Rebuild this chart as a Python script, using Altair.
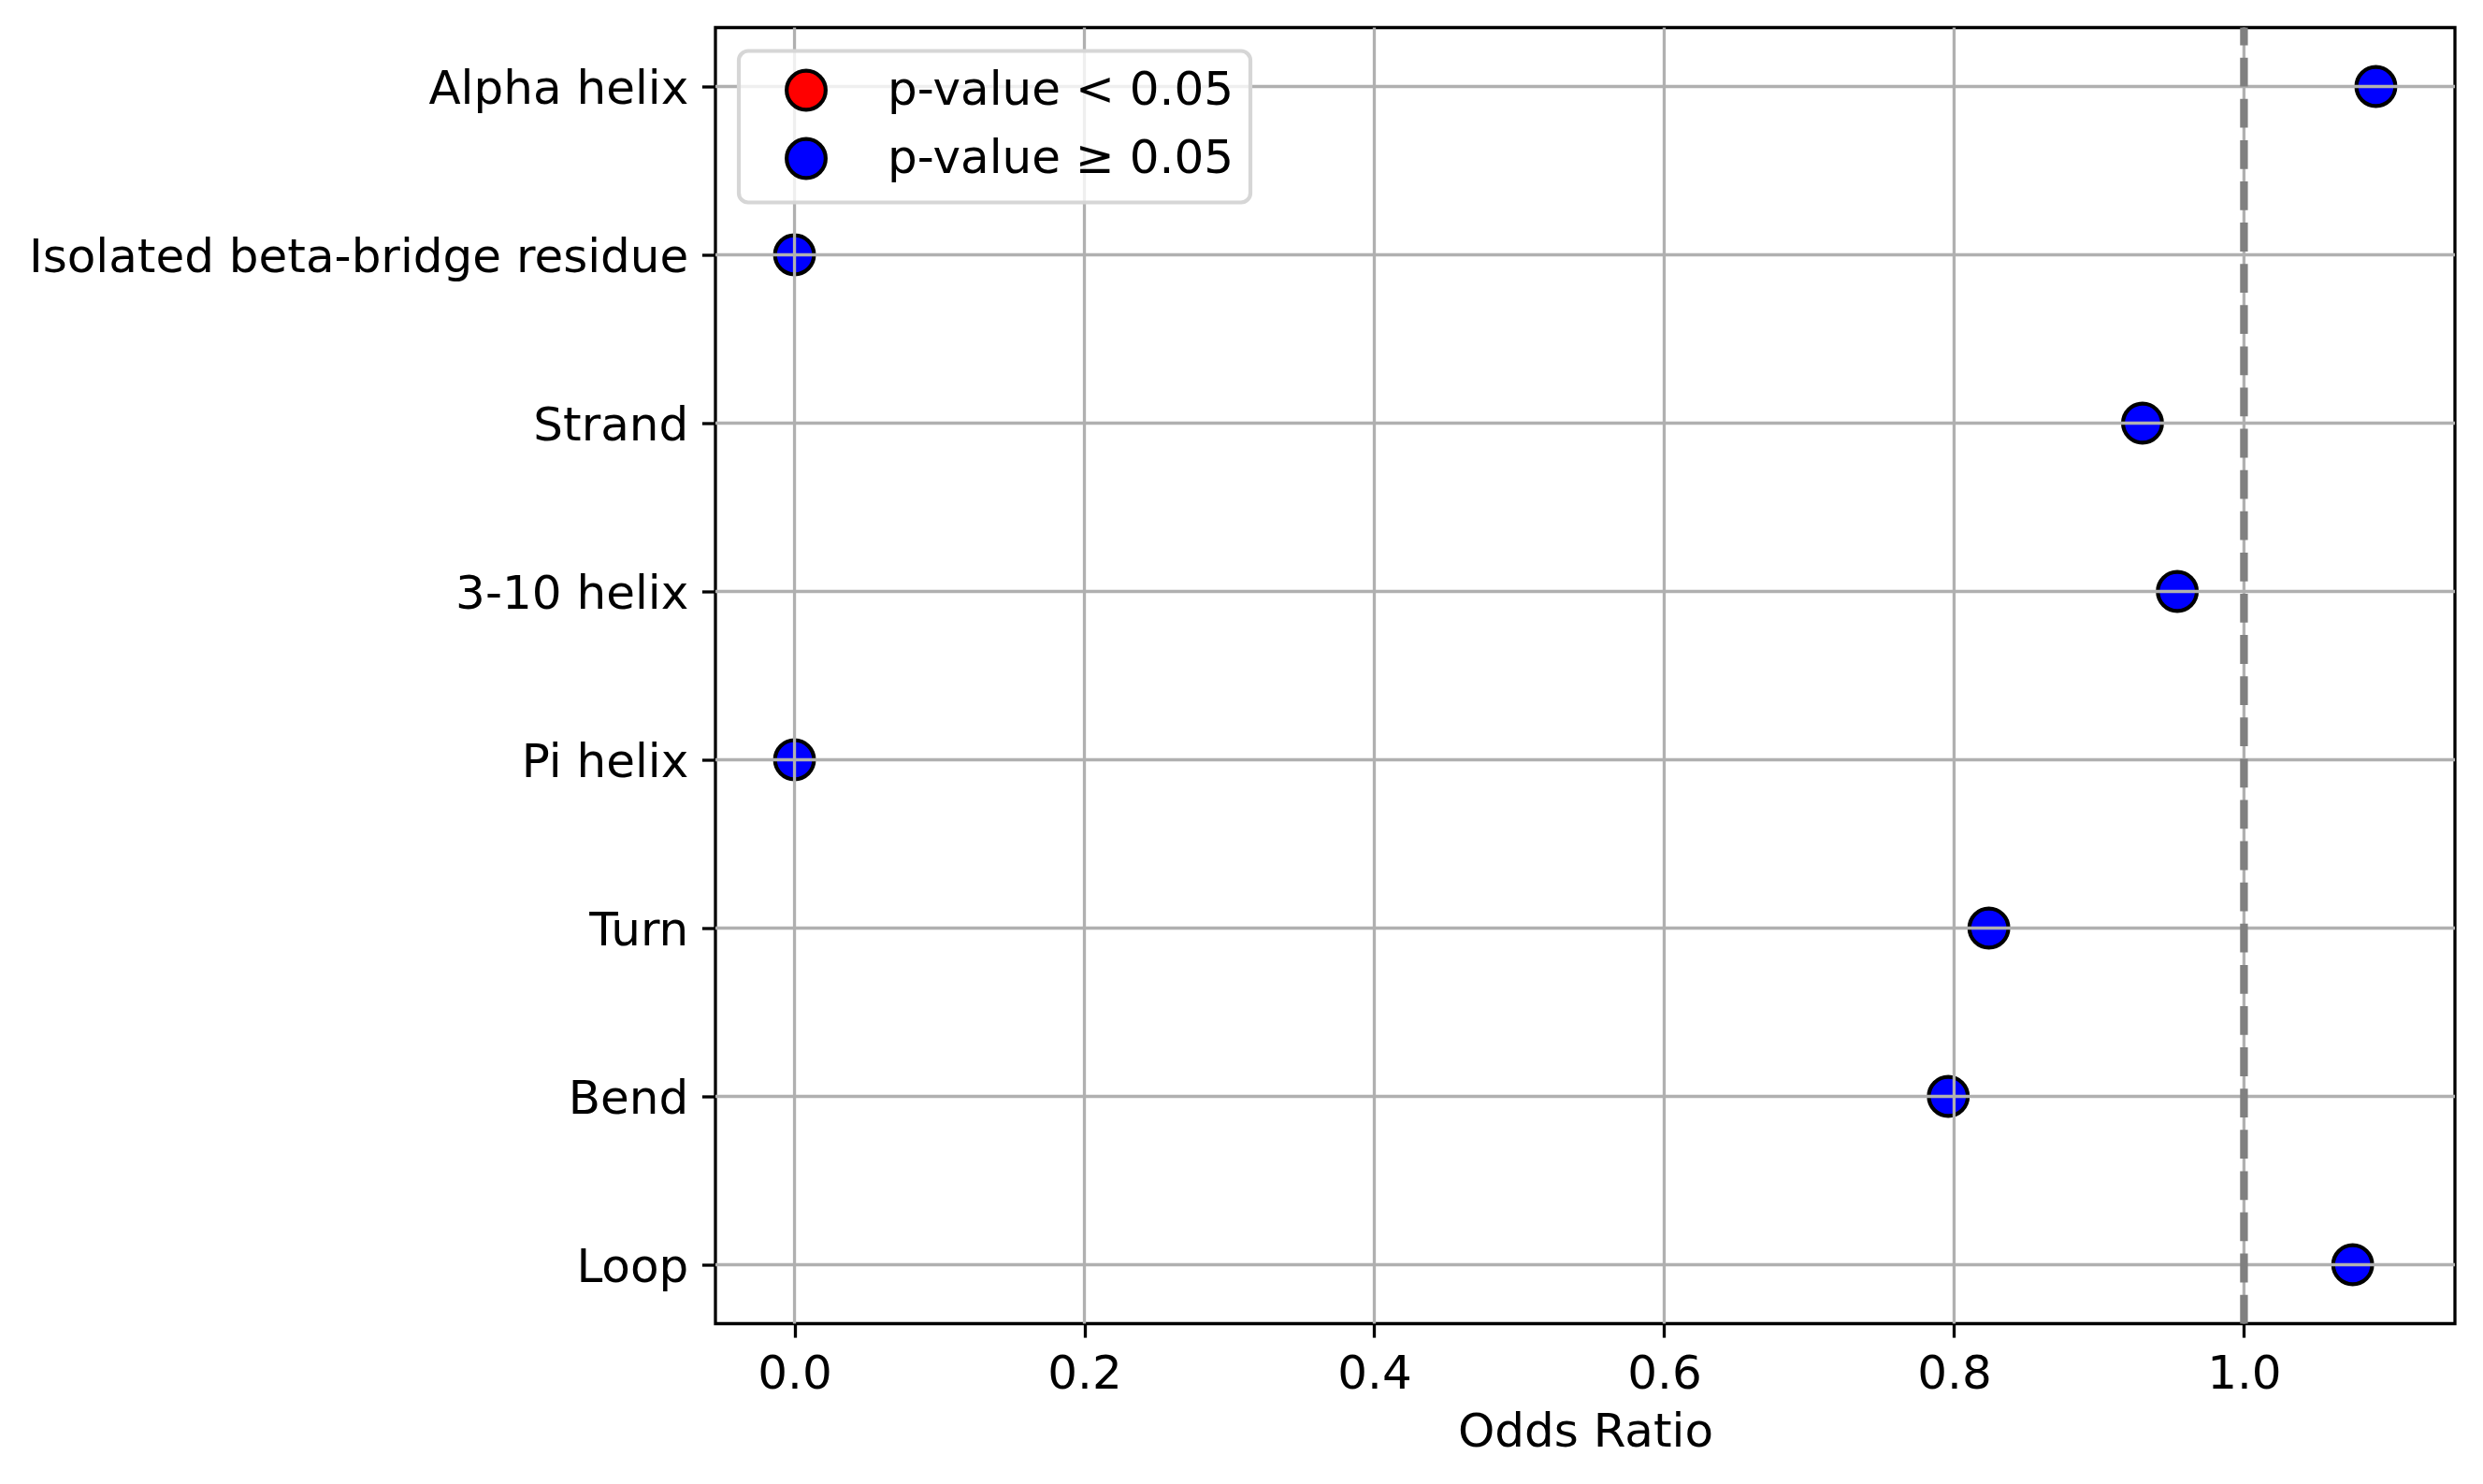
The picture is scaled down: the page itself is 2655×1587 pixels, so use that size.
import altair as alt
import pandas as pd

categories = ["Alpha helix", "Isolated beta-bridge residue", "Strand", "3-10 helix",
              "Pi helix", "Turn", "Bend", "Loop"]
odds_ratio = [1.091, 0.0, 0.930, 0.954, 0.0, 0.824, 0.796, 1.075]
significance = ["p-value ≥ 0.05"] * 8
legend_labels = ["p-value < 0.05", "p-value ≥ 0.05"]
legend_colors = ["red", "blue"]
x_ticks = [0.0, 0.2, 0.4, 0.6, 0.8, 1.0]
ref_value = [1.0]

df = pd.DataFrame({"cat": categories, "or": odds_ratio, "sig": significance})
ref = pd.DataFrame({"x": ref_value})
xgrid = pd.DataFrame({"t": x_ticks})
ygrid = pd.DataFrame({"cat": categories})

W, H = 1860, 1386
xmin = 0 - 0.05 * max(odds_ratio)
xmax = max(odds_ratio) * 1.05

x_scale = alt.Scale(domain=[xmin, xmax], nice=False, zero=False)
y_scale = alt.Scale(type="point", padding=0.35, domain=categories)

points = alt.Chart(df).mark_point(
    shape="circle", filled=True, opacity=1, size=1740,
    stroke="black", strokeWidth=4.2
).encode(
    x=alt.X("or:Q", scale=x_scale,
            axis=alt.Axis(values=x_ticks, format=".1f", title="Odds Ratio",
                          titlePadding=12, labelFlush=False, grid=False)),
    y=alt.Y("cat:N", sort=categories, scale=y_scale,
            axis=alt.Axis(title=None, labelLimit=1200, grid=False, labelOffset=3)),
    color=alt.Color("sig:N",
                    scale=alt.Scale(domain=legend_labels, range=legend_colors),
                    legend=alt.Legend(title=None, orient="top-left", zindex=2)),
)

xgrid_rules = alt.Chart(xgrid).mark_rule(color="#b0b0b0", strokeWidth=3.3).encode(
    x=alt.X("t:Q", scale=x_scale),
)

ygrid_rules = alt.Chart(ygrid).mark_rule(color="#b0b0b0", strokeWidth=3.3).encode(
    y=alt.Y("cat:N", sort=categories, scale=y_scale),
)

rule = alt.Chart(ref).mark_rule(
    color="gray", strokeWidth=8.3, strokeDash=[30.8, 13.3]
).encode(
    x=alt.X("x:Q", scale=x_scale),
    y=alt.value(H),
    y2=alt.value(0),
)

chart = alt.layer(points, xgrid_rules, ygrid_rules, rule).properties(
    width=W, height=H,
    autosize=alt.AutoSizeParams(type="none"),
    padding={"left": 757, "top": 21.5, "right": 20, "bottom": 160},
    background="white",
).configure(
    font="DejaVu Sans",
).configure_view(
    stroke="black", strokeWidth=3.3
).configure_axis(
    labelFont="DejaVu Sans", labelFontSize=50, labelColor="black",
    tickColor="black", tickWidth=3.3, tickSize=14.6, labelPadding=14.6,
    domain=False,
    titleFont="DejaVu Sans", titleFontSize=50, titleFontWeight="normal",
    titleColor="black", labelLimit=1200,
).configure_legend(
    offset=25, padding=17, strokeColor="#d6d6d6", strokeWidth=4.2,
    cornerRadius=10, fillColor="rgba(255,255,255,0.8)",
    labelFont="DejaVu Sans", labelFontSize=50, labelColor="black",
    labelLimit=1200, symbolSize=1740, symbolStrokeWidth=4.2,
    symbolStrokeColor="black", symbolType="circle", symbolOpacity=1,
    rowPadding=13, symbolOffset=30, labelOffset=62,
)

chart.save("out.html", embed_options={"renderer": "svg", "actions": False})
